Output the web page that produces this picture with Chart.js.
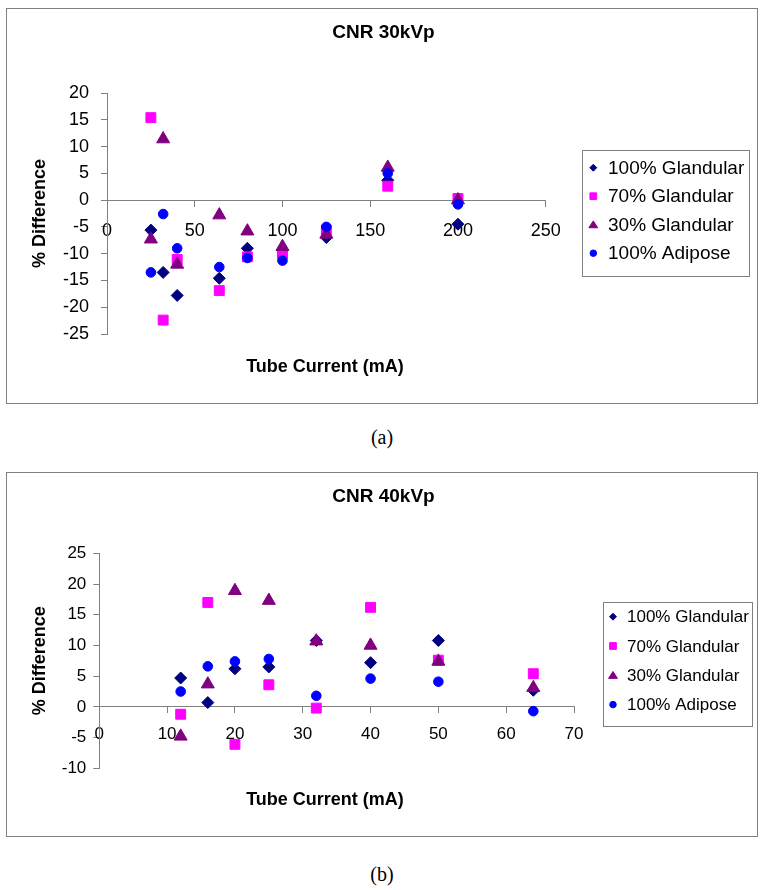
<!DOCTYPE html>
<html>
<head>
<meta charset="utf-8">
<script src="https://cdn.jsdelivr.net/npm/chart.js@4.4.1/dist/chart.umd.min.js"></script>
<style>
body{margin:0;background:#fff;}
.box{position:absolute;left:6px;width:750px;border:1px solid #808080;background:#fff;}
.box canvas{display:block;}
.cap{position:absolute;left:0;width:764px;text-align:center;font:20px "Liberation Serif","Times New Roman",serif;line-height:23px;}
</style>
</head>
<body>
<div class="box" style="top:8px;height:394px"><canvas id="chartA" width="750" height="394"></canvas></div>
<div class="cap" style="top:426px">(a)</div>
<div class="box" style="top:472px;height:363px"><canvas id="chartB" width="750" height="363"></canvas></div>
<div class="cap" style="top:863px">(b)</div>
<script>
// series names shared by both charts
const seriesNames = ['100% Glandular', '70% Glandular', '30% Glandular', '100% Adipose'];

// CNR 30kVp
const currentA = [25, 32, 40, 64, 80, 100, 125, 160, 200];
const gland100A = [-5.6, -13.5, -17.8, -14.6, -9.0, -9.4, -7.0, 3.7, -4.5];
const gland70A = [15.4, -22.4, -11.1, -16.9, -10.6, -10.0, -5.6, 2.6, 0.3];
const gland30A = [-7.3, 11.4, -12.0, -2.8, -5.8, -8.7, -6.4, 6.1, 0.0];
const adiposeA = [-13.5, -2.6, -9.0, -12.5, -10.8, -11.3, -5.0, 5.0, -0.8];
const xTicksA = [0, 50, 100, 150, 200, 250];
const yTicksA = [-25, -20, -15, -10, -5, 0, 5, 10, 15, 20];

// CNR 40kVp
const currentB = [12, 16, 20, 25, 32, 40, 50, 64];
const gland100B = [4.7, 0.7, 6.2, 6.5, 10.8, 7.2, 10.8, 2.7];
const gland70B = [-1.2, 17.0, -6.1, 3.6, -0.2, 16.2, 7.6, 5.4];
const gland30B = [-4.8, 3.7, 18.9, 17.3, 10.7, 10.0, 7.4, 3.1];
const adiposeB = [2.5, 6.6, 7.4, 7.8, 1.8, 4.6, 4.1, -0.7];
const xTicksB = [0, 10, 20, 30, 40, 50, 60, 70];
const yTicksB = [-10, -5, 0, 5, 10, 15, 20, 25];

// marker look per series
const colors = ['#000080', '#FF00FF', '#800080', '#0000FF'];
const shapes = ['rectRot', 'rect', 'triangle', 'circle'];
const radii = [6, 7, 7.5, 4.8];

const FONT = '"Liberation Sans", Arial, sans-serif';

function drawMarker(ctx, shape, r, x, y) {
  ctx.beginPath();
  if (shape === 'rectRot') {
    const d = r * 0.85;
    ctx.moveTo(x, y - d); ctx.lineTo(x + d, y); ctx.lineTo(x, y + d); ctx.lineTo(x - d, y);
    ctx.closePath();
  } else if (shape === 'rect') {
    const s = r * Math.SQRT1_2;
    ctx.rect(x - s, y - s, 2 * s, 2 * s);
  } else if (shape === 'triangle') {
    ctx.moveTo(x, y - r * 0.75);
    ctx.lineTo(x + r * 0.866, y + r * 0.6);
    ctx.lineTo(x - r * 0.866, y + r * 0.6);
    ctx.closePath();
  } else {
    ctx.arc(x, y, r, 0, Math.PI * 2);
  }
  ctx.fill();
  ctx.stroke();
}

// boxed legend at the right, like the spreadsheet one
const legendBox = {
  id: 'legendBox',
  afterDraw(chart, args, o) {
    const ctx = chart.ctx;
    ctx.save();
    ctx.strokeStyle = '#808080';
    ctx.lineWidth = 1;
    ctx.strokeRect(o.x + 0.5, o.y + 0.5, o.w, o.h);
    ctx.font = o.size + 'px ' + FONT;
    ctx.textBaseline = 'middle';
    ctx.textAlign = 'left';
    chart.data.datasets.forEach((ds, i) => {
      const y = o.y + o.first + i * o.gap;
      ctx.fillStyle = ds.backgroundColor;
      ctx.strokeStyle = ds.borderColor;
      drawMarker(ctx, ds.pointStyle, ds.pointRadius * 0.68, o.x + o.markX, y);
      ctx.fillStyle = '#000';
      ctx.fillText(ds.label, o.x + o.textX, y + 1);
    });
    ctx.restore();
  }
};

// chart title and x axis title, placed over the canvas
const texts = {
  id: 'texts',
  afterDraw(chart, args, o) {
    const ctx = chart.ctx;
    ctx.save();
    ctx.fillStyle = '#000';
    ctx.textAlign = 'center';
    ctx.textBaseline = 'middle';
    ctx.font = 'bold 19px ' + FONT;
    ctx.fillText(o.title, o.tX, o.tY);
    ctx.font = 'bold 18px ' + FONT;
    ctx.fillText(o.xTitle, o.xX, o.xY);
    ctx.restore();
  }
};

function makeDatasets(current, series) {
  return series.map((vals, i) => ({
    label: seriesNames[i],
    data: current.map((c, j) => ({x: c, y: vals[j]})),
    pointStyle: shapes[i],
    pointRadius: radii[i],
    backgroundColor: colors[i],
    borderColor: colors[i],
    borderWidth: 1,
    order: series.length - i
  }));
}

function makeChart(id, title, current, series, xTicks, yTicks, p) {
  new Chart(document.getElementById(id), {
    type: 'scatter',
    data: {datasets: makeDatasets(current, series)},
    plugins: [legendBox, texts],
    options: {
      responsive: false,
      animation: false,
      events: [],
      devicePixelRatio: 1,
      layout: {padding: {left: 0, top: p.top, right: p.right, bottom: p.bottom}},
      scales: {
        x: {
          type: 'linear',
          position: {y: 0},
          min: xTicks[0],
          max: xTicks[xTicks.length - 1],
          afterBuildTicks: s => { s.ticks = xTicks.map(v => ({value: v})); },
          afterFit: s => { s.height = 0; },
          grid: {drawOnChartArea: false, tickLength: 6, color: '#808080'},
          border: {color: '#808080'},
          ticks: {color: '#000', font: {family: FONT, size: p.tick}, padding: p.xPad, maxRotation: 0, autoSkip: false}
        },
        y: {
          type: 'linear',
          position: 'left',
          min: yTicks[0],
          max: yTicks[yTicks.length - 1],
          afterBuildTicks: s => { s.ticks = yTicks.map(v => ({value: v})); },
          afterFit: s => { s.width = p.yWidth; },
          grid: {drawOnChartArea: false, tickLength: 6, color: '#808080'},
          border: {color: '#808080'},
          ticks: {color: '#000', font: {family: FONT, size: p.tick}, padding: p.yPad},
          title: {display: true, text: '% Difference', color: '#000', font: {family: FONT, size: 18, weight: 'bold'}, padding: {top: 22.7, bottom: 0}}
        }
      },
      plugins: {
        legend: {display: false},
        tooltip: {enabled: false},
        title: {display: false},
        legendBox: p.legend,
        texts: {title: title, tX: 376.5, tY: 24, xTitle: 'Tube Current (mA)', xX: 318, xY: p.xtY}
      }
    }
  });
}

makeChart('chartA', 'CNR 30kVp', currentA, [gland100A, gland70A, gland30A, adiposeA], xTicksA, yTicksA, {
  top: 84, right: 211.3, bottom: 69, yWidth: 100, tick: 18, xPad: 14, yPad: 12,
  legend: {x: 575, y: 141, w: 167, h: 126, first: 17.7, gap: 28.5, markX: 11.3, textX: 26, size: 19},
  xtY: 358
});

makeChart('chartB', 'CNR 40kVp', currentB, [gland100B, gland70B, gland30B, adiposeB], xTicksB, yTicksB, {
  top: 80.3, right: 183, bottom: 67.7, yWidth: 92.3, tick: 17, xPad: 11, yPad: 7,
  legend: {x: 596, y: 129, w: 149, h: 124, first: 14.7, gap: 29.3, markX: 10, textX: 24, size: 17},
  xtY: 327
});
</script>
</body>
</html>
